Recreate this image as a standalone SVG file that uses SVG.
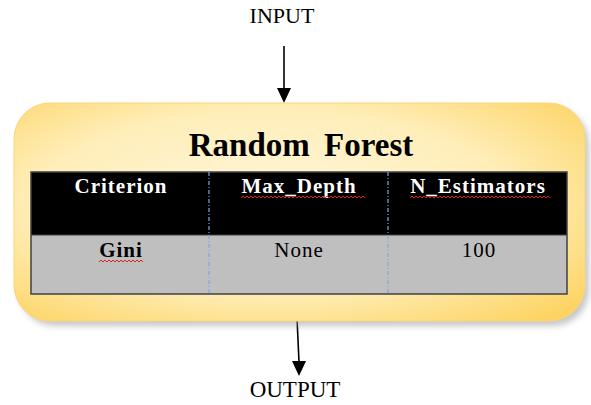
<svg xmlns="http://www.w3.org/2000/svg" width="591" height="405" viewBox="0 0 591 405">
  <style>
    .lbl { font-family: "Liberation Serif", "Times New Roman", serif; fill: #000; }
    .io { font-size: 22px; text-anchor: middle; }
    .title { font-size: 33px; font-weight: bold; text-anchor: middle; word-spacing: 6px; }
    .hdr { font-family: "Liberation Serif", "Times New Roman", serif; font-size: 21px; font-weight: bold; fill: #fff; text-anchor: middle; letter-spacing: 1px; }
    .cell { font-family: "Liberation Serif", "Times New Roman", serif; font-size: 21px; fill: #000; text-anchor: middle; letter-spacing: 1px; }
    .edge { stroke: #000; stroke-width: 1.6; fill: none; }
    .grid { stroke: #7aa7e0; stroke-width: 1.2; stroke-dasharray: 4 2 1 2; }
    .squiggle { stroke: #e02020; stroke-width: 1; fill: none; }
  </style>
  <defs>
    <radialGradient id="boxFill" cx="0.45" cy="0.45" r="0.75">
      <stop offset="0" stop-color="#fff6dc"/>
      <stop offset="0.55" stop-color="#ffeeb9"/>
      <stop offset="1" stop-color="#fdd15a"/>
    </radialGradient>
    <filter id="soft" x="-10%" y="-10%" width="120%" height="130%">
      <feGaussianBlur stdDeviation="3"/>
    </filter>
  </defs>
  <rect width="591" height="405" fill="#fff"/>

  <!-- input / output labels -->
  <text class="lbl io" x="282" y="23">INPUT</text>
  <text class="lbl io" x="295" y="397" style="font-size:23px">OUTPUT</text>

  <!-- connectors -->
  <g id="connectors">
    <line class="edge" x1="284" y1="46" x2="284" y2="88"/>
    <polygon points="277,88 291,88 284,103" fill="#000"/>
    <line class="edge" x1="297" y1="318" x2="299" y2="362"/>
    <polygon points="292,361 306,361 299,376" fill="#000"/>
  </g>

  <!-- model block -->
  <g id="random-forest">
    <rect x="19" y="108" width="570" height="218" rx="36" ry="36" fill="#9a9a9a" opacity="0.55" filter="url(#soft)"/>
    <rect x="14" y="103" width="571" height="218" rx="36" ry="36" fill="url(#boxFill)" stroke="#fbd67a" stroke-width="1"/>
    <text class="lbl title" x="301" y="156">Random Forest</text>
  </g>

  <!-- parameter table -->
  <g id="param-table">
    <rect x="31" y="172" width="536" height="63" fill="#000"/>
    <rect x="31" y="235" width="536" height="59" fill="#bfbfbf"/>
    <line x1="31" y1="235" x2="567" y2="235" stroke="#404040" stroke-width="1.2"/>
    <rect x="31" y="172" width="536" height="122" fill="none" stroke="#404040" stroke-width="1.5"/>
    <line class="grid" x1="209" y1="172" x2="209" y2="294"/>
    <line class="grid" x1="388" y1="172" x2="388" y2="294"/>

    <text class="hdr" x="121" y="193">Criterion</text>
    <text class="hdr" x="299" y="193">Max_Depth</text>
    <text class="hdr" x="478" y="193">N_Estimators</text>

    <text class="cell" x="121" y="257" font-weight="bold">Gini</text>
    <text class="cell" x="299" y="257">None</text>
    <text class="cell" x="479" y="257">100</text>

    <!-- spell-check marks -->
    <path class="squiggle" d="M241,198 l2,-2 l2,2 l2,-2 l2,2 l2,-2 l2,2 l2,-2 l2,2 l2,-2 l2,2 l2,-2 l2,2 l2,-2 l2,2 l2,-2 l2,2 l2,-2 l2,2 l2,-2 l2,2 l2,-2 l2,2 l2,-2 l2,2 l2,-2 l2,2 l2,-2 l2,2 l2,-2 l2,2 l2,-2 l2,2 l2,-2 l2,2 l2,-2 l2,2 l2,-2 l2,2 l2,-2 l2,2 l2,-2 l2,2 l2,-2 l2,2 l2,-2 l2,2 l2,-2 l2,2 l2,-2 l2,2 l2,-2 l2,2 l2,-2 l2,2 l2,-2 l2,2 l2,-2 l2,2 l2,-2 l2,2 l2,-2 l2,2"/>
    <path class="squiggle" d="M410,198 l2,-2 l2,2 l2,-2 l2,2 l2,-2 l2,2 l2,-2 l2,2 l2,-2 l2,2 l2,-2 l2,2 l2,-2 l2,2 l2,-2 l2,2 l2,-2 l2,2 l2,-2 l2,2 l2,-2 l2,2 l2,-2 l2,2 l2,-2 l2,2 l2,-2 l2,2 l2,-2 l2,2 l2,-2 l2,2 l2,-2 l2,2 l2,-2 l2,2 l2,-2 l2,2 l2,-2 l2,2 l2,-2 l2,2 l2,-2 l2,2 l2,-2 l2,2 l2,-2 l2,2 l2,-2 l2,2 l2,-2 l2,2 l2,-2 l2,2 l2,-2 l2,2 l2,-2 l2,2 l2,-2 l2,2 l2,-2 l2,2 l2,-2 l2,2 l2,-2 l2,2 l2,-2 l2,2 l2,-2 l2,2"/>
    <path class="squiggle" d="M99,262 l2,-2 l2,2 l2,-2 l2,2 l2,-2 l2,2 l2,-2 l2,2 l2,-2 l2,2 l2,-2 l2,2 l2,-2 l2,2 l2,-2 l2,2 l2,-2 l2,2 l2,-2 l2,2 l2,-2 l2,2"/>
  </g>
</svg>
